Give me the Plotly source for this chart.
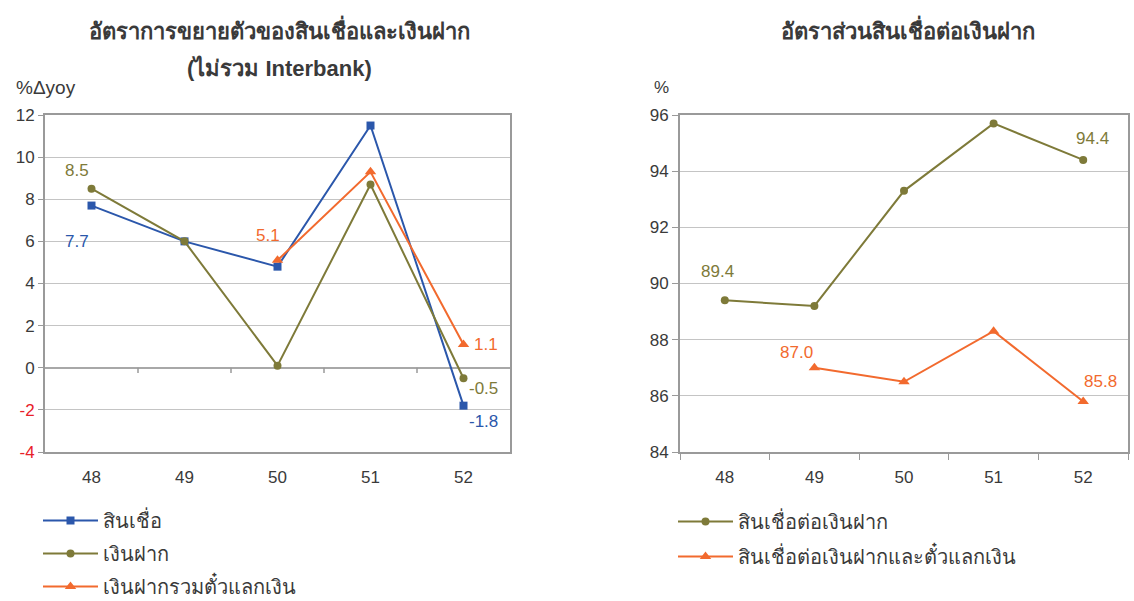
import plotly.graph_objects as go

# Years (Thai B.E., short form)
years = ["48", "49", "50", "51", "52"]

# Growth rates, %yoy (excluding interbank)
loans_growth = [7.7, 6.0, 4.8, 11.5, -1.8]
deposit_growth = [8.5, 6.0, 0.1, 8.7, -0.5]
deposit_be_growth = [None, None, 5.1, 9.3, 1.1]

# Loan-to-deposit ratios, %
ldr = [89.4, 89.2, 93.3, 95.7, 94.4]
ldr_be = [None, 87.0, 86.5, 88.3, 85.8]

BLUE = "#2b57ab"
OLIVE = "#7e7a39"
ORANGE = "#f26a2e"
GRID = "#c4c4c4"
FRAME = "#9a9a9a"
TEXT = "#3a3a3a"
FONT = "Liberation Sans, Arial, Noto Sans, sans-serif"

W, H = 1134, 601


def px(x):
    return x / W


def py(y):
    return (H - y) / H


fig = go.Figure()

# Left panel: growth rates
fig.add_trace(go.Scatter(x=years, y=loans_growth, name="สินเชื่อ", mode="lines+markers",
                         line=dict(color=BLUE, width=2), marker=dict(symbol="square", size=8, color=BLUE),
                         xaxis="x", yaxis="y", legend="legend", legendgroup="a"))
fig.add_trace(go.Scatter(x=years, y=deposit_growth, name="เงินฝาก", mode="lines+markers",
                         line=dict(color=OLIVE, width=2), marker=dict(symbol="circle", size=8, color=OLIVE),
                         xaxis="x", yaxis="y", legend="legend", legendgroup="b"))
fig.add_trace(go.Scatter(x=years, y=deposit_be_growth, name="เงินฝากรวมตั๋วแลกเงิน", mode="lines+markers",
                         line=dict(color=ORANGE, width=2), marker=dict(symbol="triangle-up", size=10, color=ORANGE),
                         xaxis="x", yaxis="y", legend="legend", legendgroup="c"))

# Right panel: loan-to-deposit ratios
fig.add_trace(go.Scatter(x=years, y=ldr, name="สินเชื่อต่อเงินฝาก", mode="lines+markers",
                         line=dict(color=OLIVE, width=2), marker=dict(symbol="circle", size=8, color=OLIVE),
                         xaxis="x2", yaxis="y2", legend="legend2", legendgroup="d"))
fig.add_trace(go.Scatter(x=years, y=ldr_be, name="สินเชื่อต่อเงินฝากและตั๋วแลกเงิน", mode="lines+markers",
                         line=dict(color=ORANGE, width=2), marker=dict(symbol="triangle-up", size=10, color=ORANGE),
                         xaxis="x2", yaxis="y2", legend="legend2", legendgroup="e"))

annotations = []


def value_label(xref, yref, series, idx, color, dx, dy):
    v = series[idx]
    annotations.append(dict(x=idx, y=v, xref=xref, yref=yref, text=f"{v:.1f}",
                            showarrow=False, xshift=dx, yshift=dy,
                            xanchor="center", yanchor="middle",
                            font=dict(family=FONT, size=17, color=color)))


value_label("x", "y", deposit_growth, 0, OLIVE, -15, 18)
value_label("x", "y", loans_growth, 0, BLUE, -15, -36)
value_label("x", "y", deposit_be_growth, 2, ORANGE, -10, 25)
value_label("x", "y", deposit_be_growth, 4, ORANGE, 22, 0)
value_label("x", "y", deposit_growth, 4, OLIVE, 20, -10)
value_label("x", "y", loans_growth, 4, BLUE, 20, -16)

value_label("x2", "y2", ldr, 0, OLIVE, -7, 29)
value_label("x2", "y2", ldr, 4, OLIVE, 9, 21)
value_label("x2", "y2", ldr_be, 1, ORANGE, -18, 15)
value_label("x2", "y2", ldr_be, 4, ORANGE, 17, 20)

# Titles and unit labels
title_font = dict(family=FONT, size=22, color=TEXT)
annotations += [
    dict(x=px(279), y=py(30), xref="paper", yref="paper", showarrow=False,
         xanchor="center", yanchor="middle",
         text="<b>อัตราการขยายตัวของสินเชื่อและเงินฝาก</b>", font=title_font),
    dict(x=px(279), y=py(68), xref="paper", yref="paper", showarrow=False,
         xanchor="center", yanchor="middle",
         text="<b>(ไม่รวม Interbank)</b>", font=title_font),
    dict(x=px(908), y=py(30), xref="paper", yref="paper", showarrow=False,
         xanchor="center", yanchor="middle",
         text="<b>อัตราส่วนสินเชื่อต่อเงินฝาก</b>", font=title_font),
    dict(x=px(14), y=py(88), xref="paper", yref="paper", showarrow=False,
         xanchor="left", yanchor="middle",
         text="%Δyoy", font=dict(family=FONT, size=19, color=TEXT)),
    dict(x=px(661), y=py(88), xref="paper", yref="paper", showarrow=False,
         xanchor="center", yanchor="middle",
         text="%", font=dict(family=FONT, size=17, color=TEXT)),
]

# Category tick marks sitting on the zero line of the left panel
shapes = []
for b in [0.5, 1.5, 2.5, 3.5]:
    shapes.append(dict(type="line", xref="x", yref="y", x0=b, x1=b, y0=0, y1=-0.25,
                       line=dict(color=FRAME, width=1.5)))

y_dom = [py(452), py(115)]

left_ticks = list(range(-4, 13, 2))
left_text = [f"<span style='color:#e8202a'>{t}</span>" if t < 0 else str(t) for t in left_ticks]

axis_font = dict(family=FONT, size=17, color=TEXT)
legend_font = dict(family=FONT, size=20, color=TEXT)

fig.update_layout(
    width=W, height=H,
    margin=dict(l=0, r=0, t=0, b=0, autoexpand=False),
    paper_bgcolor="white", plot_bgcolor="white",
    showlegend=True,
    annotations=annotations,
    shapes=shapes,
    xaxis=dict(domain=[px(45), px(510)], anchor="y", type="category", range=[-0.5, 4.5],
               showline=True, linecolor=FRAME, linewidth=2, mirror=True,
               ticks="", ticklabelstandoff=9,
               showgrid=False, tickfont=axis_font, fixedrange=True),
    yaxis=dict(domain=y_dom, anchor="x", range=[-4, 12], tickvals=left_ticks, ticktext=left_text,
               showline=True, linecolor=FRAME, linewidth=2, mirror=True,
               ticks="outside", ticklen=5, tickcolor=FRAME,
               showgrid=True, gridcolor=GRID, gridwidth=1,
               zeroline=True, zerolinecolor="#a8a8a8", zerolinewidth=1.5,
               tickfont=axis_font, fixedrange=True),
    xaxis2=dict(domain=[px(680), px(1128)], anchor="y2", type="category", range=[-0.5, 4.5],
                showline=True, linecolor=FRAME, linewidth=2, mirror=True,
                ticks="outside", ticklen=6, tickcolor=FRAME, tickson="boundaries",
                ticklabelstandoff=9,
                showgrid=False, tickfont=axis_font, fixedrange=True),
    yaxis2=dict(domain=y_dom, anchor="x2", range=[84, 96], dtick=2,
                showline=True, linecolor=FRAME, linewidth=2, mirror=True,
                ticks="outside", ticklen=6, tickcolor=FRAME,
                showgrid=True, gridcolor=GRID, gridwidth=1, zeroline=False,
                tickfont=axis_font, fixedrange=True),
    legend=dict(x=px(38), y=py(501), xanchor="left", yanchor="top",
                font=legend_font, bgcolor="rgba(0,0,0,0)",
                tracegroupgap=4, itemwidth=55),
    legend2=dict(x=px(673), y=py(502), xanchor="left", yanchor="top",
                 font=legend_font, bgcolor="rgba(0,0,0,0)",
                 tracegroupgap=6, itemwidth=55),
)

fig.write_html("out.html", config={"displayModeBar": False})
